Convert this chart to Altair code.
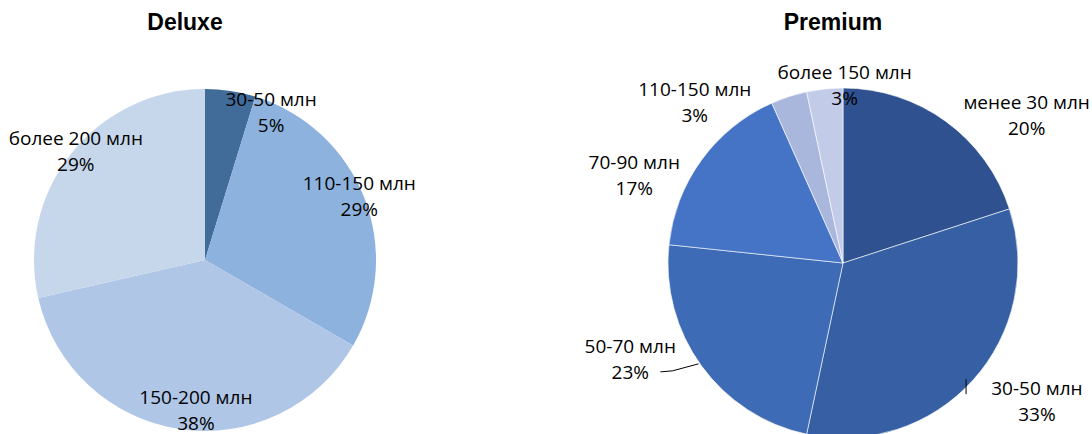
import altair as alt
import pandas as pd

# ---- data ----
deluxe_labels = ["30-50 млн", "110-150 млн", "150-200 млн", "более 200 млн"]
deluxe_counts = [1, 6, 8, 6]
premium_labels = ["менее 30 млн", "30-50 млн", "50-70 млн", "70-90 млн", "110-150 млн", "более 150 млн"]
premium_counts = [6, 10, 7, 5, 1, 1]
titles = ["Deluxe", "Premium"]

# ---- styles / layout ----
deluxe_colors = ["#416C99", "#8DB2DE", "#AFC6E7", "#C6D7EC"]
premium_colors = ["#2F5190", "#3660A3", "#3D6BB5", "#4574C6", "#A9B7DD", "#C2CBE7"]
W, H = 1092, 434
LABEL_FONT = "Open Sans"
LABEL_SIZE = 19
LINE_H = 26
TITLE_FONT = "Liberation Sans"

deluxe_nudge = {"30-50 млн": (43, 6), "110-150 млн": (10, -6),
                "150-200 млн": (14, -2), "более 200 млн": (-8, -11)}
premium_nudge = {"менее 30 млн": (69, 11), "30-50 млн": (49, 9), "50-70 млн": (-55, -18),
                 "70-90 млн": (-51, 28), "110-150 млн": (-88, 25), "более 150 млн": (22, 17)}
# leader-line segments, as offsets from the slice's outer edge at its mid-angle
premium_leaders = {"50-70 млн": [(-3, -2, -29, 5), (-29, 5, -41, 6)],
                   "30-50 млн": [(-7, -1, -7, 14)]}


def pie(labels, counts, colors, cx, cy, r, label_r, nudges, stroke_w, leaders=None):
    df = pd.DataFrame({"label": labels, "count": counts, "idx": list(range(len(labels)))})
    arc = alt.Chart(df).mark_arc(outerRadius=r, stroke="white", strokeWidth=stroke_w).encode(
        theta=alt.Theta("count:Q", stack=True),
        color=alt.Color("label:N", scale=alt.Scale(domain=labels, range=colors), legend=None),
        order=alt.Order("idx:Q"),
        x=alt.value(cx),
        y=alt.value(cy),
    )
    base = (
        alt.Chart(df)
        .transform_joinaggregate(total="sum(count)")
        .transform_window(cum="sum(count)", sort=[alt.SortField("idx")], frame=[None, 0])
        .transform_calculate(
            mid="(datum.cum - datum.count / 2) / datum.total * 2 * PI",
            txt="datum.label + '\\n' + round(datum.count / datum.total * 100) + '%'",
        )
        .transform_calculate(
            lx=f"{cx} + {label_r} * sin(datum.mid)",
            ly=f"{cy} - {label_r} * cos(datum.mid)",
            ex=f"{cx} + {r} * sin(datum.mid)",
            ey=f"{cy} - {r} * cos(datum.mid)",
        )
    )
    layers = [arc]
    for lab, segs in (leaders or {}).items():
        for (sx, sy, tx, ty) in segs:
            layers.append(
                base.transform_filter(alt.datum.label == lab)
                .transform_calculate(
                    x1=f"datum.ex + ({sx})", y1=f"datum.ey + ({sy})",
                    x2=f"datum.ex + ({tx})", y2=f"datum.ey + ({ty})",
                )
                .mark_rule(color="black", strokeWidth=1)
                .encode(x=alt.X("x1:Q", scale=None), y=alt.Y("y1:Q", scale=None),
                        x2="x2:Q", y2="y2:Q")
            )
    for lab in labels:
        dx, dy = nudges[lab]
        layers.append(
            base.transform_filter(alt.datum.label == lab)
            .mark_text(font=LABEL_FONT, fontSize=LABEL_SIZE, lineBreak="\n", lineHeight=LINE_H,
                       align="center", baseline="middle", color="black",
                       dx=dx, dy=dy - LINE_H / 2)
            .encode(x=alt.X("lx:Q", scale=None), y=alt.Y("ly:Q", scale=None), text="txt:N")
        )
    return layers


deluxe_layers = pie(deluxe_labels, deluxe_counts, deluxe_colors, 205, 260, 171, 155, deluxe_nudge, 0)
premium_layers = pie(premium_labels, premium_counts, premium_colors, 843, 263, 175, 195,
                     premium_nudge, 0.6, premium_leaders)

title_layers = [
    alt.Chart(pd.DataFrame({"t": [titles[0]]})).mark_text(
        font=TITLE_FONT, fontSize=23, fontWeight="bold", align="center", baseline="alphabetic"
    ).encode(text="t:N", x=alt.value(185), y=alt.value(30)),
    alt.Chart(pd.DataFrame({"t": [titles[1]]})).mark_text(
        font=TITLE_FONT, fontSize=23, fontWeight="bold", align="center", baseline="alphabetic"
    ).encode(text="t:N", x=alt.value(833), y=alt.value(30)),
]

chart = (
    alt.layer(*deluxe_layers, *premium_layers, *title_layers)
    .resolve_scale(theta="independent", color="independent")
    .properties(width=W, height=H, autosize="none", padding=0, background="white")
    .configure_view(stroke=None)
)

chart.save("out.html", embed_options={"renderer": "svg", "actions": False})
